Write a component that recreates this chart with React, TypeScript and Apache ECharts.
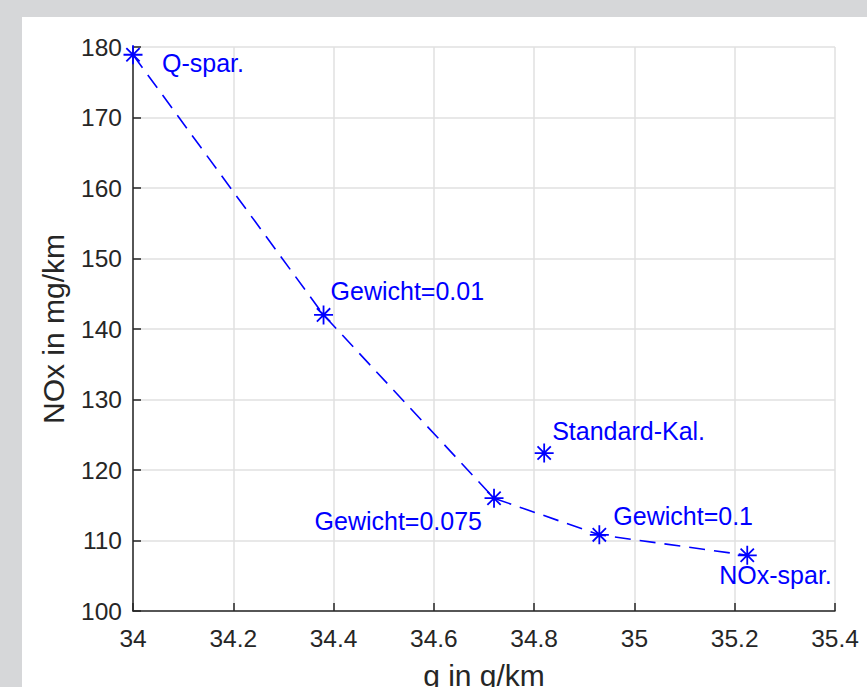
import React, { useEffect, useRef } from "react";
import * as echarts from "echarts";

// Data
const curveX = [34.0, 34.38, 34.72, 34.93, 35.225];
const curveY = [178.9, 142.0, 116.0, 110.8, 107.9];
const curveLabels = ["Q-spar.", "Gewicht=0.01", "Gewicht=0.075", "Gewicht=0.1", "NOx-spar."];
const standardX = [34.82];
const standardY = [122.4];
const standardLabels = ["Standard-Kal."];

const xTicks = { min: 34, max: 35.4, interval: 0.2 };
const yTicks = { min: 100, max: 180, interval: 10 };

const xTitle = "g in g/km";
const yTitle = "NOx in mg/km";

// label placement (style only): [align, dx, dy]
const curveLabelPlacement: [string, number, number][] = [
  ["left", 29, 8],
  ["left", 7, -24],
  ["right", -12, 23],
  ["left", 14, -19],
  ["left", -28, 20],
];
const standardLabelPlacement: [string, number, number][] = [["left", 8, -22]];

const BLUE = "#0000ff";
const DARK = "#262626";
const FONT = "'Liberation Sans', Arial, Helvetica, sans-serif";
const STAR = "path://M0,10L20,10M10,0L10,20M3,3L17,17M17,3L3,17";

function buildData(xs: number[], ys: number[], labels: string[], place: [string, number, number][]) {
  return xs.map((x, i) => ({
    value: [x, ys[i]],
    label: {
      show: true,
      formatter: labels[i],
      position: "inside",
      align: place[i][0],
      verticalAlign: "middle",
      offset: [place[i][1], place[i][2]],
      color: BLUE,
      fontSize: 25,
      fontFamily: FONT,
    },
  }));
}

export default function App() {
  const ref = useRef<HTMLDivElement>(null);
  useEffect(() => {
    if (!ref.current) return;
    const chart = echarts.init(ref.current, null, { renderer: "svg" });
    const symbolStyle = {
      color: "rgba(0,0,0,0)",
      borderColor: BLUE,
      borderWidth: 1.8,
      opacity: 1,
    };
    chart.setOption({
      animation: false,
      backgroundColor: "transparent",
      grid: { left: 133, top: 47, width: 702, height: 564, outerBoundsMode: "none", containLabel: false },
      xAxis: {
        type: "value",
        min: xTicks.min,
        max: xTicks.max,
        interval: xTicks.interval,
        name: xTitle,
        nameLocation: "middle",
        nameGap: 49,
        nameTextStyle: { color: DARK, fontSize: 30, fontFamily: FONT },
        axisLine: { show: true, onZero: false, lineStyle: { color: DARK, width: 1.5 } },
        axisTick: { show: true, inside: true, length: 8, lineStyle: { color: DARK, width: 1.5 } },
        axisLabel: { color: DARK, fontSize: 24.5, fontFamily: FONT, margin: 15 },
        splitLine: { show: true, lineStyle: { color: "#e0e0e0", width: 1.5 } },
      },
      yAxis: {
        type: "value",
        min: yTicks.min,
        max: yTicks.max,
        interval: yTicks.interval,
        name: yTitle,
        nameLocation: "middle",
        nameGap: 65,
        nameTextStyle: { color: DARK, fontSize: 30, fontFamily: FONT },
        axisLine: { show: true, onZero: false, lineStyle: { color: DARK, width: 1.5 } },
        axisTick: { show: true, inside: true, length: 8, lineStyle: { color: DARK, width: 1.5 } },
        axisLabel: { color: DARK, fontSize: 24.5, fontFamily: FONT, margin: 11 },
        splitLine: { show: true, lineStyle: { color: "#e0e0e0", width: 1.5 } },
      },
      series: [
        {
          type: "line",
          data: buildData(curveX, curveY, curveLabels, curveLabelPlacement),
          symbol: STAR,
          symbolSize: 19,
          showSymbol: true,
          itemStyle: symbolStyle,
          lineStyle: { color: BLUE, width: 1.6, type: [16, 9] },
          z: 3,
        },
        {
          type: "scatter",
          data: buildData(standardX, standardY, standardLabels, standardLabelPlacement),
          symbol: STAR,
          symbolSize: 19,
          itemStyle: symbolStyle,
          z: 3,
        },
      ],
    });
    return () => chart.dispose();
  }, []);

  return (
    <div style={{ position: "fixed", left: 0, top: 0, width: 867, height: 687, background: "#d6d7d9", overflow: "hidden" }}>
      <div style={{ position: "absolute", left: 22, top: 17, right: 0, bottom: 0, background: "#ffffff" }} />
      <div ref={ref} style={{ position: "absolute", left: 0, top: 0, width: 867, height: 687 }} />
    </div>
  );
}
